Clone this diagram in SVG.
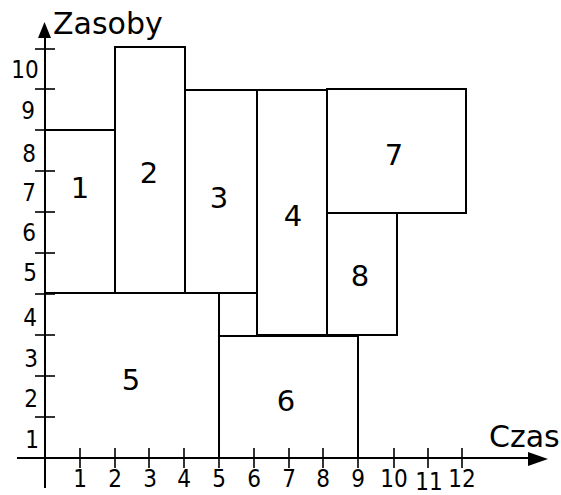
<svg xmlns="http://www.w3.org/2000/svg" width="561" height="495" viewBox="0 0 561 495">
  <style>
    .box { fill: #ffffff; stroke: #000; stroke-width: 2; }
    .ax { stroke: #000; stroke-width: 2; fill: none; }
    .tick { stroke: #000; stroke-width: 1.6; }
    .num { font-family: "DejaVu Sans Condensed", "DejaVu Sans", sans-serif; font-stretch: condensed; font-size: 24px; fill: #000; text-anchor: middle; }
    .lbl { font-family: "DejaVu Sans", sans-serif; font-size: 29px; fill: #000; text-anchor: middle; }
    .title { font-family: "DejaVu Sans", sans-serif; font-size: 30px; fill: #000; }
  </style>
  <rect width="561" height="495" fill="#ffffff"/>

  <!-- task blocks -->
  <g id="block-5"><rect class="box" x="45" y="293" width="174" height="165"/><text class="lbl" x="131" y="390">5</text></g>
  <g id="block-6"><rect class="box" x="219" y="336" width="139" height="122"/><text class="lbl" x="286" y="411">6</text></g>
  <g id="block-1"><rect class="box" x="45" y="130" width="70" height="163"/><text class="lbl" x="80" y="198">1</text></g>
  <g id="block-2"><rect class="box" x="115" y="47" width="70" height="246"/><text class="lbl" x="149" y="183">2</text></g>
  <g id="block-3"><rect class="box" x="185" y="90" width="72" height="203"/><text class="lbl" x="219" y="208">3</text></g>
  <g id="block-4"><rect class="box" x="257" y="90" width="70" height="245"/><text class="lbl" x="293" y="226">4</text></g>
  <g id="block-7"><rect class="box" x="327" y="89" width="139" height="124"/><text class="lbl" x="394" y="165">7</text></g>
  <g id="block-8"><rect class="box" x="327" y="213" width="70" height="122"/><text class="lbl" x="360" y="286">8</text></g>

  <!-- axes -->
  <g id="axes">
    <line class="ax" x1="45" y1="488" x2="45" y2="34"/>
    <polygon points="44.5,22 38,38 51,38" fill="#000"/>
    <line class="ax" x1="17" y1="458" x2="532" y2="458"/>
    <polygon points="548,459 528,452 528,466" fill="#000"/>
    <text class="title" x="53" y="34">Zasoby</text>
    <text class="title" x="489" y="447">Czas</text>

    <!-- resource ticks -->
    <g class="tick">
      <line x1="35" y1="417" x2="55" y2="417"/>
      <line x1="35" y1="376" x2="55" y2="376"/>
      <line x1="35" y1="335" x2="55" y2="335"/>
      <line x1="35" y1="294" x2="55" y2="294"/>
      <line x1="35" y1="253" x2="55" y2="253"/>
      <line x1="35" y1="212" x2="55" y2="212"/>
      <line x1="35" y1="171" x2="55" y2="171"/>
      <line x1="35" y1="130" x2="55" y2="130"/>
      <line x1="35" y1="89" x2="55" y2="89"/>
      <line x1="35" y1="49" x2="55" y2="49"/>
    </g>
    <text class="num" x="32" y="448">1</text>
    <text class="num" x="31" y="407">2</text>
    <text class="num" x="31" y="367">3</text>
    <text class="num" x="30" y="326">4</text>
    <text class="num" x="30" y="281">5</text>
    <text class="num" x="29" y="241">6</text>
    <text class="num" x="29" y="201">7</text>
    <text class="num" x="29" y="162">8</text>
    <text class="num" x="28" y="119">9</text>
    <text class="num" x="25" y="78">10</text>

    <!-- time ticks -->
    <g class="tick">
      <line x1="80" y1="448" x2="80" y2="468"/>
      <line x1="115" y1="448" x2="115" y2="468"/>
      <line x1="149" y1="448" x2="149" y2="468"/>
      <line x1="184" y1="448" x2="184" y2="468"/>
      <line x1="219" y1="448" x2="219" y2="468"/>
      <line x1="254" y1="448" x2="254" y2="468"/>
      <line x1="289" y1="448" x2="289" y2="468"/>
      <line x1="323" y1="448" x2="323" y2="468"/>
      <line x1="358" y1="448" x2="358" y2="468"/>
      <line x1="394" y1="448" x2="394" y2="468"/>
      <line x1="428" y1="448" x2="428" y2="468"/>
      <line x1="462" y1="448" x2="462" y2="468"/>
    </g>
    <text class="num" x="80" y="487">1</text>
    <text class="num" x="115" y="487">2</text>
    <text class="num" x="150" y="487">3</text>
    <text class="num" x="184" y="487">4</text>
    <text class="num" x="219" y="487">5</text>
    <text class="num" x="254" y="487">6</text>
    <text class="num" x="289" y="487">7</text>
    <text class="num" x="323" y="487">8</text>
    <text class="num" x="358" y="487">9</text>
    <text class="num" x="394" y="487">10</text>
    <text class="num" x="429" y="490">11</text>
    <text class="num" x="462" y="487">12</text>
  </g>
</svg>
